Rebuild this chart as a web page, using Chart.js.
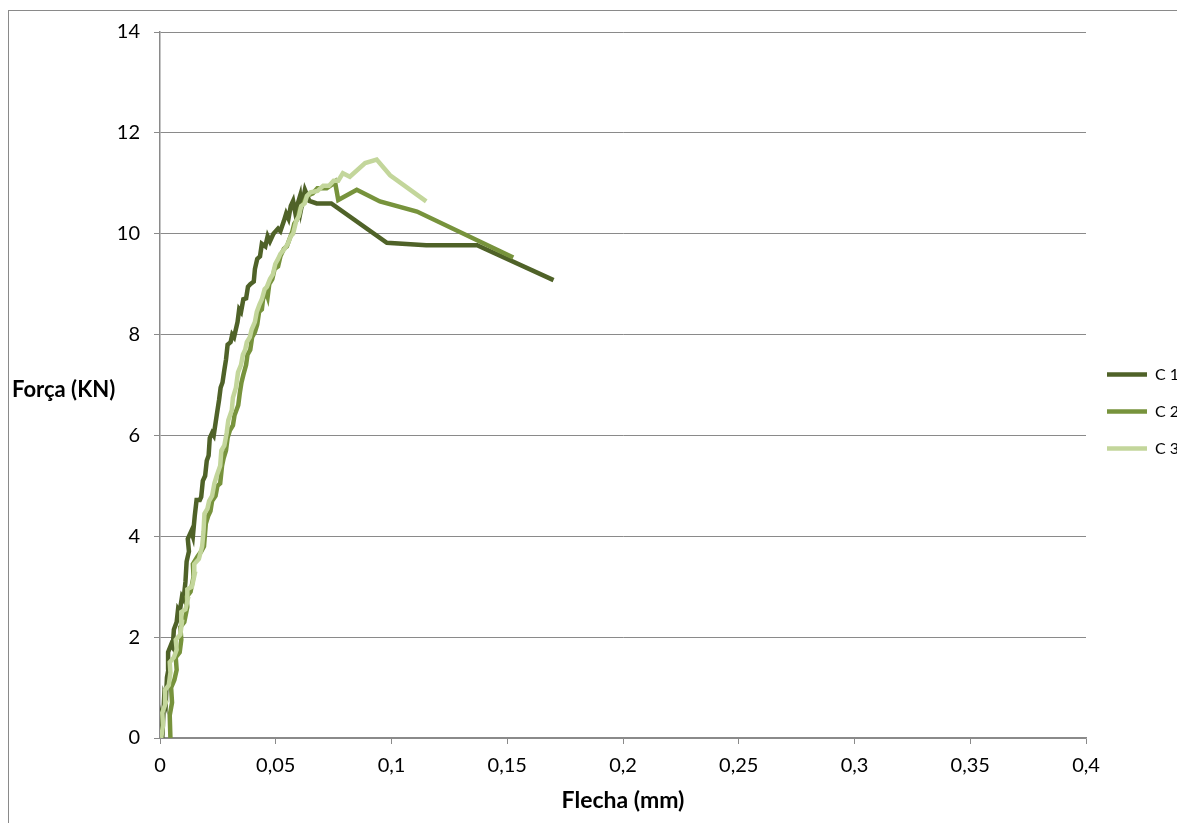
<!DOCTYPE html>
<html>
<head>
<meta charset="utf-8">
<script src="https://cdn.jsdelivr.net/npm/chart.js@4.4.0/dist/chart.umd.min.js"></script>
<style>
  html, body { margin: 0; padding: 0; background: #fff; }
  #frame { position: absolute; left: 8px; top: 10px; width: 1200px; height: 900px; border: 1.5px solid #8a8a8a; }
  #wrap { position: absolute; left: 0; top: 0; width: 1177px; height: 823px; }
</style>
</head>
<body>
<div id="frame"></div>
<div id="wrap"><canvas id="myChart" width="1177" height="823"></canvas></div>
<script>
var xTickLabels = ['0','0,05','0,1','0,15','0,2','0,25','0,3','0,35','0,4'];
var yTickLabels = ['0','2','4','6','8','10','12','14'];

// [flecha (mm), força (KN)]
var C1 = [[0,0],[0.0005,0.35],[0.0012,0.2],[0.0018,0.8],[0.0025,0.7],[0.003,1.2],[0.0038,1.4],[0.0035,1.7],
  [0.0048,1.85],[0.0055,1.8],[0.006,2.15],[0.0072,2.3],[0.0078,2.55],[0.0085,2.5],[0.0095,2.8],[0.0102,2.75],
  [0.011,3.1],[0.0115,3.5],[0.0125,3.7],[0.012,3.95],[0.0135,4.1],[0.0142,4.0],[0.015,4.4],[0.0158,4.72],
  [0.0172,4.72],[0.0178,4.78],[0.0185,5.1],[0.0195,5.2],[0.0202,5.5],[0.021,5.6],[0.0215,5.95],[0.0225,6.05],
  [0.0232,6.0],[0.0245,6.4],[0.0255,6.7],[0.0262,6.95],[0.027,7.05],[0.0278,7.3],[0.0285,7.5],[0.0292,7.8],
  [0.0305,7.85],[0.0312,8.0],[0.032,7.95],[0.0335,8.25],[0.0342,8.5],[0.035,8.45],[0.036,8.7],[0.0372,8.72],
  [0.038,8.95],[0.039,9.0],[0.0405,9.05],[0.041,9.3],[0.042,9.5],[0.0432,9.55],[0.044,9.8],[0.0455,9.75],
  [0.0465,9.95],[0.0475,9.85],[0.049,10.0],[0.051,10.1],[0.052,10.05],[0.0535,10.25],[0.0545,10.4],[0.0555,10.3],
  [0.0565,10.55],[0.0575,10.65],[0.0585,10.4],[0.0595,10.6],[0.0605,10.75],[0.061,10.5],[0.0626,10.87],
  [0.0645,10.65],[0.0677,10.6],[0.074,10.6],[0.098,9.82],[0.115,9.77],[0.137,9.77],[0.17,9.08]];

var C2 = [[0.0045,0],[0.0042,0.45],[0.0052,0.7],[0.0048,1.0],[0.0062,1.15],[0.0072,1.35],[0.0068,1.6],[0.0085,1.7],
  [0.0092,1.95],[0.0088,2.2],[0.0105,2.3],[0.0118,2.6],[0.0115,2.8],[0.0132,2.9],[0.0145,3.2],[0.0142,3.45],
  [0.0162,3.6],[0.0178,3.7],[0.019,3.8],[0.0198,4.25],[0.0208,4.4],[0.0218,4.5],[0.0225,4.7],[0.024,4.8],
  [0.0248,5.0],[0.026,5.05],[0.0268,5.4],[0.0275,5.55],[0.0285,5.7],[0.0292,5.95],[0.0302,6.1],[0.0315,6.2],
  [0.0322,6.4],[0.0338,6.6],[0.0345,6.85],[0.0352,7.05],[0.036,7.2],[0.0372,7.4],[0.0378,7.6],[0.039,7.7],
  [0.0398,7.95],[0.041,8.05],[0.042,8.2],[0.0428,8.45],[0.044,8.5],[0.0445,8.7],[0.0458,8.85],[0.0465,8.75],
  [0.0472,9.0],[0.0485,9.1],[0.0495,9.3],[0.051,9.35],[0.052,9.55],[0.0535,9.7],[0.0548,9.75],[0.056,9.9],
  [0.0572,10.05],[0.058,10.2],[0.0595,10.3],[0.0605,10.5],[0.062,10.6],[0.0634,10.75],[0.066,10.8],[0.068,10.9],
  [0.072,10.9],[0.0745,10.98],[0.0756,11.03],[0.077,10.67],[0.085,10.87],[0.095,10.64],[0.111,10.44],[0.1526,9.53]];

var C3 = [[0.0005,0],[0.0013,0.25],[0.001,0.5],[0.0025,0.7],[0.0022,0.95],[0.0038,1.05],[0.0045,1.3],[0.0042,1.5],
  [0.006,1.6],[0.0072,1.75],[0.0068,1.95],[0.0088,2.05],[0.0095,2.3],[0.0092,2.5],[0.011,2.55],[0.012,2.75],
  [0.0118,2.95],[0.0138,3.0],[0.015,3.25],[0.0148,3.45],[0.0168,3.55],[0.0182,3.8],[0.0188,4.1],[0.0192,4.45],
  [0.0205,4.55],[0.0212,4.7],[0.0225,4.8],[0.0235,5.05],[0.0245,5.2],[0.026,5.4],[0.0265,5.7],[0.0278,5.8],
  [0.0288,6.05],[0.0295,6.3],[0.031,6.5],[0.0315,6.75],[0.0328,6.95],[0.0337,7.25],[0.035,7.4],[0.0358,7.6],
  [0.0368,7.7],[0.0375,7.85],[0.0388,7.95],[0.0396,8.1],[0.041,8.25],[0.0418,8.45],[0.043,8.6],[0.044,8.7],
  [0.0452,8.9],[0.0462,8.95],[0.0475,9.1],[0.0488,9.2],[0.0498,9.4],[0.051,9.5],[0.052,9.6],[0.0538,9.7],
  [0.0552,9.8],[0.0565,9.95],[0.0575,10.0],[0.0588,10.25],[0.06,10.35],[0.061,10.55],[0.0625,10.6],[0.0635,10.75],
  [0.065,10.82],[0.068,10.85],[0.0705,10.95],[0.073,10.95],[0.075,11.05],[0.077,11.05],[0.079,11.2],[0.082,11.13],
  [0.0886,11.4],[0.0936,11.47],[0.0994,11.16],[0.115,10.64]];

function pts(arr) {
  return arr.map(function (p) { return { x: p[0], y: p[1] }; });
}

var FONT = 'Lato, "Open Sans", sans-serif';

// horizontal y-axis title, like the original
var yTitle = {
  id: 'yTitle',
  afterDraw: function (chart) {
    var c = chart.ctx;
    c.save();
    c.font = 'bold 22px ' + FONT;
    c.fillStyle = '#000';
    c.textBaseline = 'middle';
    c.textAlign = 'left';
    c.fillText('Força (KN)', 12, 390);
    c.restore();
  }
};

// move the legend up a bit
var legendShift = {
  id: 'legendShift',
  afterLayout: function (chart) {
    chart.legend.top -= 16;
    chart.legend.bottom -= 16;
  }
};

var ctx = document.getElementById("myChart");
var myChart = new Chart(ctx, {
  type: 'scatter',
  data: {
    datasets: [
      {
        label: "C 1",
        data: pts(C1),
        borderColor: "#4f6228",
        backgroundColor: "#4f6228",
        showLine: true,
        borderWidth: 4.5,
        pointRadius: 0,
        pointStyle: 'line',
        order: 3
      },
      {
        label: "C 2",
        data: pts(C2),
        borderColor: "#77933c",
        backgroundColor: "#77933c",
        showLine: true,
        borderWidth: 4.5,
        pointRadius: 0,
        pointStyle: 'line',
        order: 2
      },
      {
        label: "C 3",
        data: pts(C3),
        borderColor: "#c3d69b",
        backgroundColor: "#c3d69b",
        showLine: true,
        borderWidth: 4.5,
        pointRadius: 0,
        pointStyle: 'line',
        order: 1
      }
    ]
  },
  options: {
    responsive: false,
    animation: false,
    layout: { padding: { top: 32, left: 0, right: 0, bottom: 0 } },
    plugins: {
      tooltip: { enabled: false },
      legend: {
        position: 'right',
        maxWidth: 91,
        labels: {
          usePointStyle: true,
          pointStyleWidth: 40,
          boxWidth: 40,
          boxHeight: 4,
          padding: 21,
          color: '#000',
          font: { family: FONT, size: 16, lineHeight: 0.85 },
          sort: function (a, b) { return a.datasetIndex - b.datasetIndex; }
        }
      }
    },
    scales: {
      x: {
        type: 'linear',
        min: 0,
        max: 0.4,
        afterFit: function (s) { s.height = 85; },
        ticks: {
          stepSize: 0.05,
          padding: 10,
          color: '#000',
          font: { family: FONT, size: 20 },
          maxRotation: 0,
          callback: function (v, i) { return xTickLabels[i]; }
        },
        grid: { drawOnChartArea: false, drawTicks: true, tickLength: 6, color: '#8a8a8a', lineWidth: 1 },
        border: { display: true, color: '#8a8a8a', width: 1.5 },
        title: { display: true, text: 'Flecha (mm)', color: '#000', font: { family: FONT, size: 23, weight: 'bold' }, padding: { top: 4, bottom: 9 } }
      },
      y: {
        type: 'linear',
        min: 0,
        max: 14,
        afterFit: function (s) { s.width = 160; },
        ticks: {
          stepSize: 2,
          padding: 14,
          color: '#000',
          font: { family: FONT, size: 20 },
          callback: function (v, i) { return yTickLabels[i]; }
        },
        grid: { color: '#8a8a8a', lineWidth: 1, tickLength: 6 },
        border: { display: true, color: '#8a8a8a', width: 1.5 }
      }
    }
  },
  plugins: [yTitle, legendShift]
});
</script>
</body>
</html>
